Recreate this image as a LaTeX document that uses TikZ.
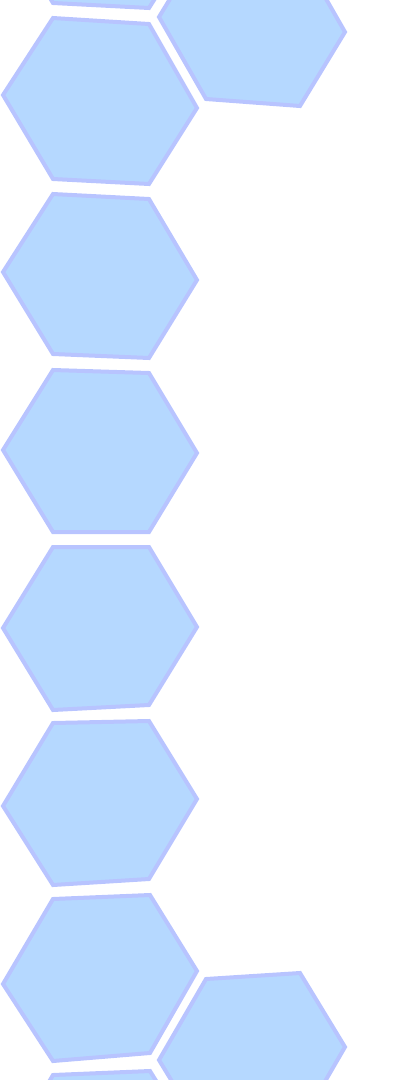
\documentclass[tikz,border=0pt]{standalone}
\definecolor{hexfill}{RGB}{181,216,255}
\definecolor{hexline}{RGB}{184,196,255}
\begin{document}
\begin{tikzpicture}[x=1pt,y=-1pt,
  hexcell/.style={fill=hexfill,draw=hexline,line width=4pt,line join=miter}]
\useasboundingbox (0,0) rectangle (400,1080);
\clip (0,0) rectangle (400,1080);
% A (top partial)
\draw[hexcell] (53,-158) -- (149,-152) -- (197,-68) -- (149,8) -- (53,3) -- (3,-81) -- cycle;
% B (top right)
\draw[hexcell] (204,-57) -- (298,-50) -- (345,32) -- (300,106) -- (206,99) -- (159,17) -- cycle;
% C
\draw[hexcell] (53,18) -- (149,24) -- (197,108) -- (149,184) -- (53,179) -- (3,95) -- cycle;
% D
\draw[hexcell] (53,194) -- (149,199) -- (197,280) -- (149,358) -- (53,354) -- (3,272) -- cycle;
% E
\draw[hexcell] (53,370) -- (149,373) -- (197,453) -- (149,532) -- (53,532) -- (3,450) -- cycle;
% F
\draw[hexcell] (53,547) -- (149,547) -- (197,627) -- (149,705) -- (53,710) -- (3,628) -- cycle;
% G
\draw[hexcell] (53,723) -- (149,721) -- (197,799) -- (149,879) -- (53,885) -- (3,806) -- cycle;
% H
\draw[hexcell] (53,899) -- (150,895) -- (197,971) -- (150,1053) -- (53,1061) -- (3,984) -- cycle;
% I (bottom right)
\draw[hexcell] (206,979) -- (300,973) -- (345,1047) -- (298,1128) -- (204,1134) -- (159,1060) -- cycle;
% J (bottom partial)
\draw[hexcell] (53,1075) -- (150,1071) -- (197,1147) -- (150,1229) -- (53,1237) -- (3,1160) -- cycle;
\end{tikzpicture}
\end{document}
